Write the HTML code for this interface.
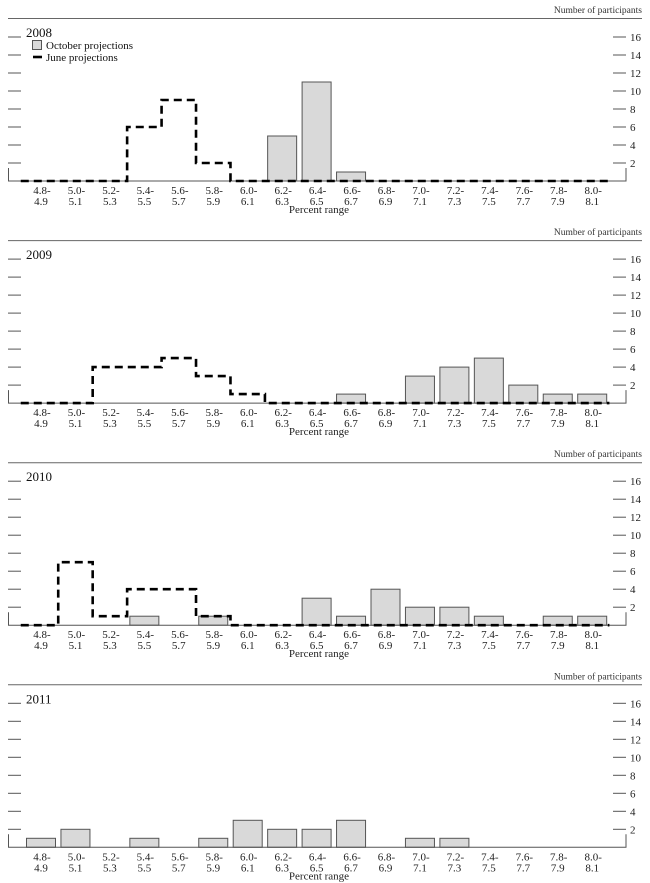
<!DOCTYPE html>
<html><head><meta charset="utf-8"><style>
html,body{margin:0;padding:0;background:#fff;}
svg{display:block;font-family:"Liberation Serif",serif;}
</style></head><body>
<svg id="chart" width="650" height="883" viewBox="0 0 650 883" xmlns="http://www.w3.org/2000/svg"></svg>
<script>
const categories = ["4.8-4.9","5.0-5.1","5.2-5.3","5.4-5.5","5.6-5.7","5.8-5.9","6.0-6.1","6.2-6.3","6.4-6.5","6.6-6.7","6.8-6.9","7.0-7.1","7.2-7.3","7.4-7.5","7.6-7.7","7.8-7.9","8.0-8.1"];
const years = ["2008","2009","2010","2011"];
const october2008 = [0,0,0,0,0,0,0,5,11,1,0,0,0,0,0,0,0];
const june2008    = [0,0,0,6,9,2,0,0,0,0,0,0,0,0,0,0,0];
const october2009 = [0,0,0,0,0,0,0,0,0,1,0,3,4,5,2,1,1];
const june2009    = [0,0,4,4,5,3,1,0,0,0,0,0,0,0,0,0,0];
const october2010 = [0,0,0,1,0,1,0,0,3,1,4,2,2,1,0,1,1];
const june2010    = [0,7,1,4,4,1,0,0,0,0,0,0,0,0,0,0,0];
const october2011 = [1,2,0,1,0,1,3,2,2,3,0,1,1,0,0,0,0];
const june2011    = null;
const yTicks = [2,4,6,8,10,12,14,16];

const octSeries = [october2008, october2009, october2010, october2011];
const juneSeries = [june2008, june2009, june2010, june2011];
const svg = document.getElementById('chart');
const NS = 'http://www.w3.org/2000/svg';
function mk(tag, attrs, parent) {
  const e = document.createElementNS(NS, tag);
  for (const k in attrs) e.setAttribute(k, attrs[k]);
  (parent || svg).appendChild(e);
  return e;
}
const x0 = 41, step = 34.45, unit = 9;
function xc(i) { return x0 + i * step; }

years.forEach((yr, p) => {
  const off = p * 222.1;
  const base = 181 + off;
  const y = v => base - v * unit;
  const g = mk('g', {});
  
  

  const nt = mk('text', {x: 642, y: 13 + off, 'font-size': 9.5, 'text-anchor': 'end', fill: '#333'}, g);
  nt.textContent = 'Number of participants';
  
  
  const rule = mk('line', {x1: 8, x2: 642, y1: 18.5 + off, y2: 18.5 + off, stroke: '#666', 'stroke-width': 1}, g);
  
  

  const yt = mk('text', {x: 26, y: 37 + off, 'font-size': 13, fill: '#111'}, g);
  yt.textContent = yr;
  
  

  yTicks.forEach(t => {
    const ty = y(t);
    const tl = mk('line', {x1: 8, x2: 21, y1: ty, y2: ty, stroke: '#555', 'stroke-width': 1}, g);
    
    
    const tr = mk('line', {x1: 613, x2: 626, y1: ty, y2: ty, stroke: '#555', 'stroke-width': 1}, g);
    
    
    const lb = mk('text', {x: 630, y: ty + 4, 'font-size': 11, fill: '#222'}, g);
    lb.textContent = t;
    
    
  });

  octSeries[p].forEach((v, i) => {
    if (v <= 0) return;
    const r = mk('rect', {x: xc(i) - 14.5, y: y(v), width: 29, height: v * unit, fill: '#d9d9d9', stroke: '#555', 'stroke-width': 1}, g);
    
    
  });

  const ax = mk('path', {d: `M8.5 ${base-13} V${base} H626 V${base-13}`, fill: 'none', stroke: '#555', 'stroke-width': 1}, g);
  
  

  const js = juneSeries[p];
  if (js) {
    let d = '';
    js.forEach((v, i) => {
      const l = xc(i) - step / 2, r = xc(i) + step / 2;
      d += (i === 0 ? `M${l - 3} ${y(v)}` : ` V${y(v)}`) + ` H${r}`;
    });
    const pl = mk('path', {d: d, fill: 'none', stroke: '#000', 'stroke-width': 2.6, 'stroke-dasharray': '8,5'}, g);
    
    
  }

  categories.forEach((c, i) => {
    const parts = c.split('-');
    const t = mk('text', {x: xc(i) + 1, y: base + 13, 'font-size': 11, 'text-anchor': 'middle', fill: '#222'}, g);
    t.textContent = parts[0] + '-';
    
    
    const t2 = mk('text', {x: xc(i), y: base + 24, 'font-size': 11, 'text-anchor': 'middle', fill: '#222'}, g);
    t2.textContent = parts[1];
    
    
  });
  const pr = mk('text', {x: 319, y: base + 32, 'font-size': 11, 'text-anchor': 'middle', fill: '#222'}, g);
  pr.textContent = 'Percent range';
  
  

  if (p === 0) {
    const lg = mk('g', {}, g);
    
    
    const lb = mk('rect', {x: 32.5, y: 40.5, width: 9, height: 9, fill: '#d9d9d9', stroke: '#555'}, lg);
    
    
    const l1 = mk('text', {x: 46, y: 49, 'font-size': 11, fill: '#111'}, lg);
    l1.textContent = 'October projections';
    
    
    const ll = mk('line', {x1: 33, x2: 42, y1: 57, y2: 57, stroke: '#000', 'stroke-width': 2.6}, lg);
    
    
    const l2 = mk('text', {x: 46, y: 61, 'font-size': 11, fill: '#111'}, lg);
    l2.textContent = 'June projections';
    
    
  }
});
</script>
</body></html>
